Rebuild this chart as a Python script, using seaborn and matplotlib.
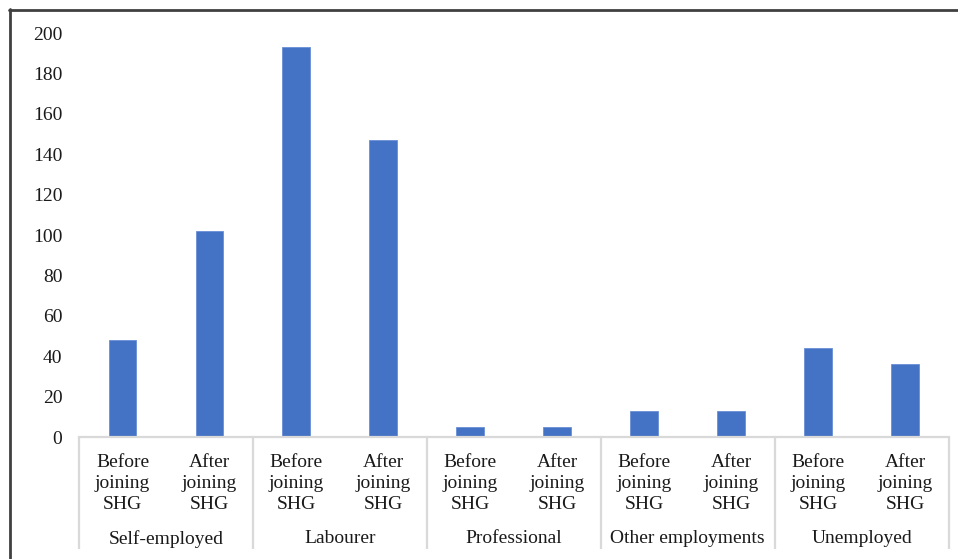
import matplotlib
matplotlib.use("Agg")
import matplotlib.pyplot as plt
import matplotlib.transforms as mtransforms
from matplotlib.lines import Line2D
import seaborn as sns
import pandas as pd

# Occupation categories and counts before / after joining SHG
groups = ["Self-employed", "Labourer", "Professional", "Other employments", "Unemployed"]
phases = ["Before joining SHG", "After joining SHG"]
before = [48, 193, 5, 13, 44]
after = [102, 147, 5, 13, 36]
y_ticks = [0, 20, 40, 60, 80, 100, 120, 140, 160, 180, 200]

rows = []
for g, b, a in zip(groups, before, after):
    rows.append({"key": f"{g}|before", "group": g, "phase": phases[0], "count": b})
    rows.append({"key": f"{g}|after", "group": g, "phase": phases[1], "count": a})
df = pd.DataFrame(rows)

sns.set_theme(style="white")
plt.rcParams["font.family"] = ["Liberation Serif", "DejaVu Serif"]
FS = 14
plt.rcParams["font.size"] = FS

W, H = 958, 559
fig = plt.figure(figsize=(W / 100, H / 100), dpi=100)
ax = fig.add_axes([79 / W, 1 - 437 / H, (948.5 - 79) / W, (437 - 33) / H])

sns.barplot(data=df, x="key", y="count", order=list(df["key"]), color="#4472C4",
            width=0.32, saturation=1, ax=ax, edgecolor="#6a8fd6", linewidth=0.6)

ax.set_ylim(0, 200)
ax.set_xlim(-0.5, len(df) - 0.5)
ax.set_yticks(y_ticks)
ax.set_yticklabels([str(v) for v in y_ticks], fontsize=FS, color="#1a1a1a")
ax.set_xticks(range(len(df)))
ax.set_xticklabels([p.replace(" ", "\n") for p in df["phase"]],
                   fontsize=FS, color="#1a1a1a", linespacing=1.33)
ax.tick_params(axis="y", length=0, pad=12)
ax.tick_params(axis="x", length=0, pad=12)
ax.set_xlabel("")
ax.set_ylabel("")

for side in ["top", "right", "left"]:
    ax.spines[side].set_visible(False)
ax.spines["bottom"].set_color("#d9d9d9")
ax.spines["bottom"].set_linewidth(1.6)

# Group separators and group labels below the axis
trans = mtransforms.blended_transform_factory(ax.transData, ax.transAxes)
for i in range(len(groups) + 1):
    xpos = 2 * i - 0.5
    ax.plot([xpos, xpos], [0, -0.277], transform=trans, color="#d9d9d9",
            linewidth=1.6, clip_on=False, solid_capstyle="butt")
for i, g in enumerate(groups):
    ax.text(2 * i + 0.5, -0.252, g, transform=trans, ha="center", va="center",
            fontsize=FS, color="#1a1a1a")

# Outer frame (top and left edges)
fig.add_artist(Line2D([9 / W, 1], [1 - 9.5 / H, 1 - 9.5 / H], transform=fig.transFigure,
                      color="#404040", linewidth=2))
fig.add_artist(Line2D([9.5 / W, 9.5 / W], [0, 1 - 9 / H], transform=fig.transFigure,
                      color="#404040", linewidth=2))

fig.savefig("out.png", dpi=100)
